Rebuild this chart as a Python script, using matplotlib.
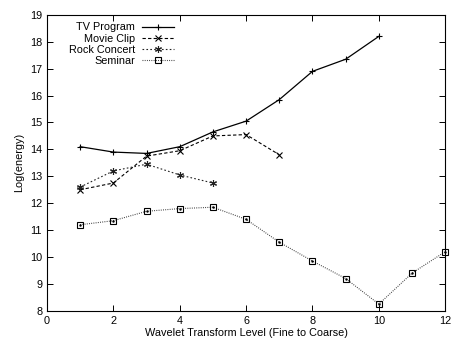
import matplotlib
matplotlib.use("Agg")
import matplotlib.pyplot as plt

plt.rcParams['font.family'] = ['Liberation Sans', 'DejaVu Sans']
plt.rcParams['font.size'] = 7.8

tv_x = [1, 2, 3, 4, 5, 6, 7, 8, 9, 10]
tv_y = [14.1, 13.9, 13.85, 14.1, 14.65, 15.05, 15.85, 16.9, 17.35, 18.2]

movie_x = [1, 2, 3, 4, 5, 6, 7]
movie_y = [12.5, 12.75, 13.75, 13.95, 14.5, 14.55, 13.8]

rock_x = [1, 2, 3, 4, 5]
rock_y = [12.6, 13.2, 13.45, 13.05, 12.75]

seminar_x = [1, 2, 3, 4, 5, 6, 7, 8, 9, 10, 11, 12]
seminar_y = [11.2, 11.35, 11.7, 11.8, 11.85, 11.4, 10.55, 9.85, 9.2, 8.25, 9.4, 10.2]

fig = plt.figure(figsize=(4.52, 3.45), dpi=100)
ax = fig.add_axes([0.104, 0.099, 0.881, 0.858])

ax.plot(tv_x, tv_y, color='black', lw=0.9, marker='+', ms=5, mew=0.8,
        label='TV Program')
ax.plot(movie_x, movie_y, color='black', lw=0.8, ls=(0, (3, 2)), marker='x',
        ms=4.5, mew=0.8, label='Movie Clip')
ax.plot(rock_x, rock_y, color='#222222', lw=0.8, ls=(0, (1.5, 2)),
        marker=(6, 2, 0), ms=5, mew=0.8, label='Rock Concert')
ax.plot(seminar_x, seminar_y, color='#333333', lw=0.8, ls=(0, (0.8, 1.2)),
        marker='s', ms=5, mfc='none', mec='black', mew=0.8, label='Seminar',
        clip_on=False)
ax.plot(seminar_x, seminar_y, ls='none', marker='.', ms=1.5, color='black',
        clip_on=False)

ax.set_xlim(0, 12)
ax.set_ylim(8, 19)
ax.set_xticks(range(0, 13, 2))
ax.set_yticks(range(8, 20))
ax.tick_params(direction='in', top=True, right=True, length=4, width=0.7)
for s in ax.spines.values():
    s.set_linewidth(0.8)

ax.set_xlabel('Wavelet Transform Level (Fine to Coarse)', labelpad=2)
ax.set_ylabel('Log(energy)', labelpad=4)

ax.legend(loc='upper left', markerfirst=False, frameon=False,
          handlelength=2.9, handletextpad=0.7, labelspacing=0.1,
          borderaxespad=0.3, bbox_to_anchor=(0.035, 1.0))

fig.savefig('out.png', dpi=100)
